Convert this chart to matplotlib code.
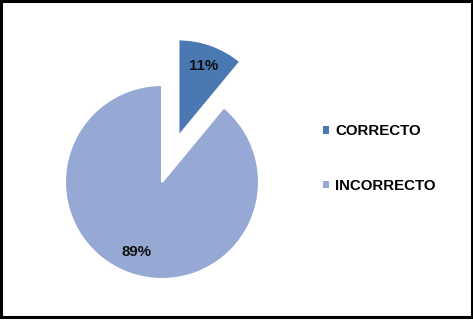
import matplotlib
matplotlib.use('Agg')
import matplotlib.pyplot as plt
from matplotlib.patches import Rectangle

plt.rcParams['font.family'] = ['Liberation Sans', 'DejaVu Sans']

categories = ['CORRECTO', 'INCORRECTO']
values = [11, 89]
colors = ['#4A78B2', '#95A9D4']
explode = [0.5, 0.0]

W, H = 473, 322
fig = plt.figure(figsize=(W / 100, H / 100), dpi=100)

# pie axes: centre ~ (162, 182) px from top-left, radius ~97 px
r_px = 97
half = 1.6
side = 2 * half * r_px
cx, cy = 162, H - 182
ax = fig.add_axes([(cx - side / 2) / W, (cy - side / 2) / H, side / W, side / H])

wedges, texts, autotexts = ax.pie(
    values, colors=colors, explode=explode, startangle=90, counterclock=False,
    autopct='%1.0f%%', pctdistance=0.77,
    wedgeprops=dict(edgecolor='white', linewidth=1.5),
    textprops=dict(fontsize=10.8, fontweight='bold', color='#111111'))
ax.set_xlim(-half, half)
ax.set_ylim(-half, half)
ax.set_aspect('equal')
ax.axis('off')

leg = fig.legend(wedges, categories, loc='center left',
                 bbox_to_anchor=(323 / W, 1 - 158.5 / H),
                 frameon=False, prop=dict(weight='bold', size=10.8),
                 handlelength=0.42, handleheight=0.42, handletextpad=0.4,
                 labelspacing=2.7, borderpad=0, borderaxespad=0)
for h in leg.legend_handles:
    h.set_edgecolor('none')

# black frame around the chart
fig.patches.append(Rectangle((1 / W, 5 / H), 470.5 / W, 316 / H,
                             transform=fig.transFigure, fill=False,
                             edgecolor='black', linewidth=2.2))

fig.savefig('out.png', dpi=100, facecolor='white')
